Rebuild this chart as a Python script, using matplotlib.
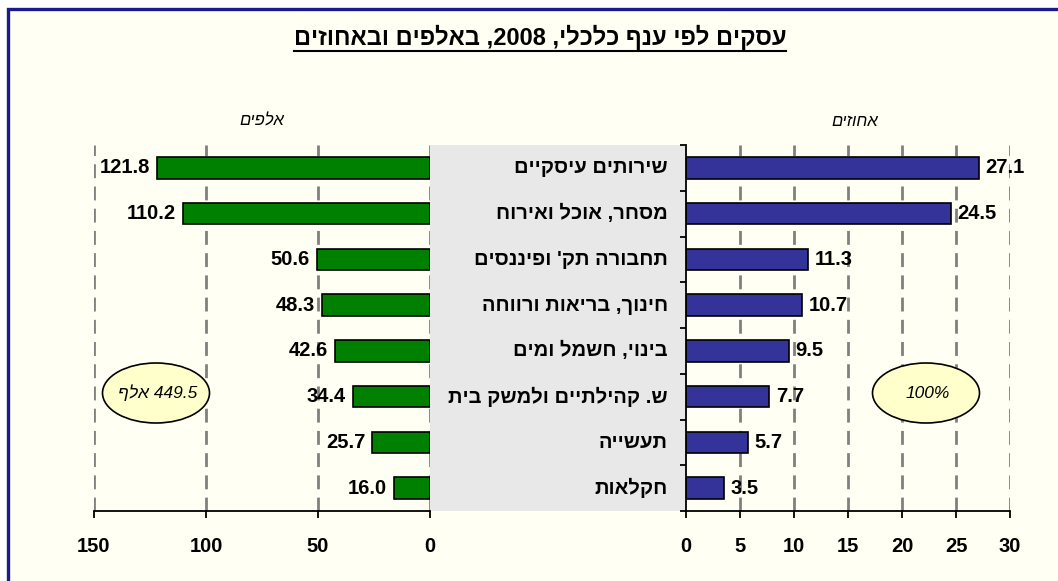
import re
import matplotlib
matplotlib.use("Agg")
import matplotlib.pyplot as plt
from matplotlib.patches import Rectangle, Ellipse
from matplotlib.lines import Line2D

plt.rcParams['font.family'] = ['Liberation Sans', 'DejaVu Sans']


def vis(s):
    # matplotlib has no bidi: flip hebrew, keep numbers left-to-right
    parts = re.split(r'(\d+(?:\.\d+)?%?)', s)
    out = []
    for p in reversed(parts):
        if re.fullmatch(r'\d+(?:\.\d+)?%?', p):
            out.append(p)
        else:
            out.append(p[::-1])
    return ''.join(out)


# נתונים
categories = ["שירותים עיסקיים", "מסחר, אוכל ואירוח", "תחבורה תק' ופיננסים",
              "חינוך, בריאות ורווחה", "בינוי, חשמל ומים", "ש. קהילתיים ולמשק בית",
              "תעשייה", "חקלאות"]
thousands = [121.8, 110.2, 50.6, 48.3, 42.6, 34.4, 25.7, 16.0]
percent = [27.1, 24.5, 11.3, 10.7, 9.5, 7.7, 5.7, 3.5]
left_ticks = [150, 100, 50, 0]
right_ticks = [0, 5, 10, 15, 20, 25, 30]
title = "עסקים לפי ענף כלכלי, 2008, באלפים ובאחוזים"
total_left = "449.5 אלף"
total_right = "100%"

W, H = 1058, 581
fig = plt.figure(figsize=(W / 100, H / 100), dpi=100, facecolor='white')


def fx(x):
    return x / W


def fy(y):
    return 1 - y / H


# frame + background
fig.patches.append(Rectangle((fx(8), -0.05), 1.1, fy(9) + 0.05, transform=fig.transFigure,
                             facecolor='#FFFFF3', edgecolor='#1a1a8c', lw=2.4, zorder=-3))
# gray middle band
fig.patches.append(Rectangle((fx(430), fy(511)), fx(686) - fx(430), fy(145) - fy(511),
                             transform=fig.transFigure, facecolor='#E8E8E8',
                             edgecolor='none', zorder=-2))

top, bot = 145, 511
axL = fig.add_axes([fx(94), fy(bot), fx(430) - fx(94), fy(top) - fy(bot)])
axR = fig.add_axes([fx(686), fy(bot), fx(1010) - fx(686), fy(top) - fy(bot)])

ypos = list(range(len(categories)))
bh = 0.47
fs = 14.5
grid_kw = dict(color='#808080', lw=2, dashes=(5, 3), zorder=1)

# left: thousands
axL.set_facecolor('none')
axL.barh(ypos, thousands, height=bh, color='#008000', edgecolor='black', lw=1.2, zorder=3)
axL.set_xlim(150, 0)
axL.set_ylim(len(categories) - 0.5, -0.5)
for t in left_ticks:
    axL.axvline(t, **grid_kw)
for y, v in zip(ypos, thousands):
    axL.annotate(f"{v:.1f}", (v, y), xytext=(-5, 0), textcoords='offset points',
                 ha='right', va='center', fontsize=fs, fontweight='bold')
axL.set_xticks(left_ticks)
axL.set_xticklabels([str(t) for t in left_ticks], fontsize=fs, fontweight='bold')
axL.set_yticks([])
for s in ['top', 'left', 'right']:
    axL.spines[s].set_visible(False)
axL.spines['bottom'].set_linewidth(1.3)
axL.tick_params(axis='x', direction='out', length=5, width=1.3, pad=14)

# right: percent
axR.set_facecolor('none')
axR.barh(ypos, percent, height=bh, color='#333399', edgecolor='black', lw=1.2, zorder=3)
axR.set_xlim(0, 30)
axR.set_ylim(len(categories) - 0.5, -0.5)
for t in right_ticks[1:]:
    axR.axvline(t, **grid_kw)
for y, v in zip(ypos, percent):
    axR.annotate(f"{v:.1f}", (v, y), xytext=(5, 0), textcoords='offset points',
                 ha='left', va='center', fontsize=fs, fontweight='bold', zorder=4)
axR.set_xticks(right_ticks)
axR.set_xticklabels([str(t) for t in right_ticks], fontsize=fs, fontweight='bold')
axR.set_yticks([i - 0.5 for i in range(len(categories) + 1)])
axR.set_yticklabels([])
for s in ['top', 'right']:
    axR.spines[s].set_visible(False)
axR.spines['bottom'].set_linewidth(1.3)
axR.spines['left'].set_linewidth(1.3)
axR.spines['left'].set_zorder(4)
axR.tick_params(axis='x', direction='out', length=5, width=1.3, pad=14)
axR.tick_params(axis='y', direction='out', length=4.5, width=1.3)

# category names, right aligned next to the right axis
for y, c in zip(ypos, categories):
    axR.annotate(vis(c), (0, y), xytext=(-13, 0), textcoords='offset points',
                 ha='right', va='center', fontsize=fs, fontweight='bold',
                 annotation_clip=False)

# headers
fig.text(fx(262), fy(121), vis("אלפים"), ha='center', va='center', fontsize=12, style='italic')
fig.text(fx(855), fy(121), vis("אחוזים"), ha='center', va='center', fontsize=12, style='italic')

# totals in ellipses
for cx, txt in [(156, total_left), (926, total_right)]:
    e = Ellipse((fx(cx), fy(393)), fx(107), 60 / H, transform=fig.transFigure,
                facecolor='#FFFFCC', edgecolor='black', lw=1.2, zorder=5)
    fig.add_artist(e)
    fig.text(fx(cx + 2), fy(393), vis(txt), ha='center', va='center', fontsize=12.5,
             style='italic', zorder=6)

# title, underlined
tt = fig.text(fx(540), fy(37), vis(title), ha='center', va='center', fontsize=17,
              fontweight='bold')
fig.canvas.draw()
bb = tt.get_window_extent()
fig.add_artist(Line2D([bb.x0 / W, bb.x1 / W], [(bb.y0 - 1) / H] * 2,
                      transform=fig.transFigure, color='black', lw=1.5))

fig.savefig("out.png", dpi=100, facecolor=fig.get_facecolor())
